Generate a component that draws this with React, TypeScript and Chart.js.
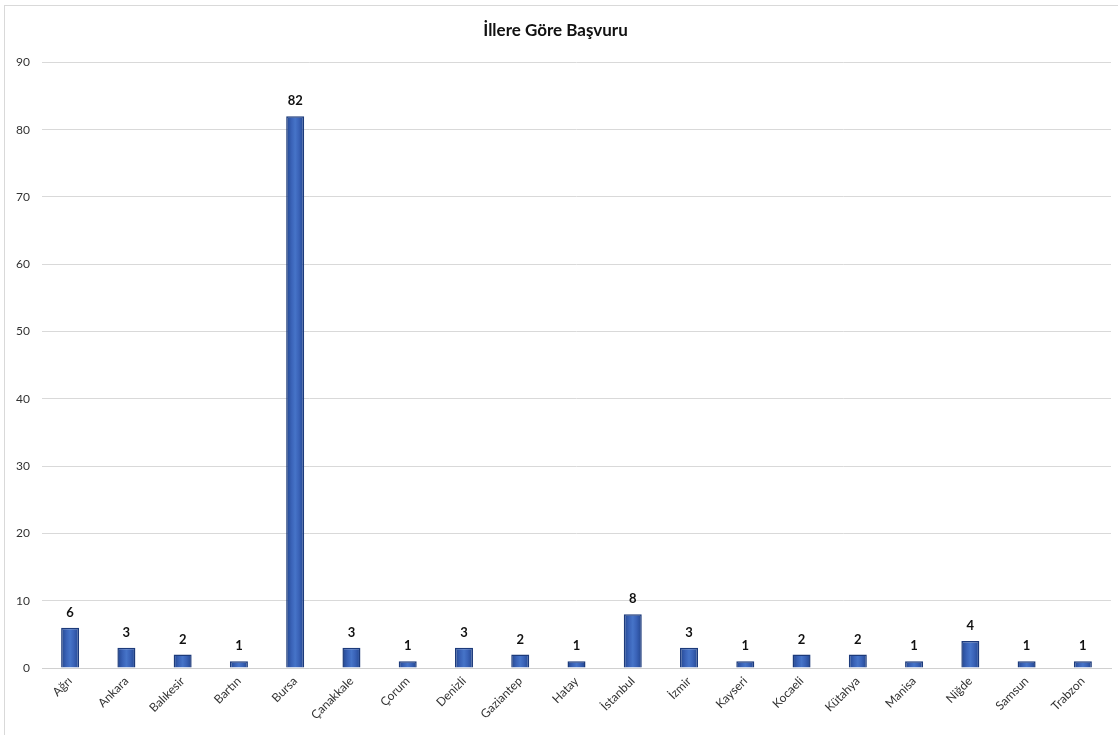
import React, { useEffect, useRef } from "react";
import { Chart, registerables } from "chart.js";

Chart.register(...registerables);

const categories: string[] = [
  "Ağrı", "Ankara", "Balıkesir", "Bartın", "Bursa", "Çanakkale", "Çorum", "Denizli",
  "Gaziantep", "Hatay", "İstanbul", "İzmir", "Kayseri", "Kocaeli", "Kütahya", "Manisa",
  "Niğde", "Samsun", "Trabzon",
];
const values: number[] = [6, 3, 2, 1, 82, 3, 1, 3, 2, 1, 8, 3, 1, 2, 2, 1, 4, 1, 1];
const chartTitle = "İllere Göre Başvuru";
const yMin = 0;
const yMax = 90;
const yStep = 10;

const FONT = "Lato, 'Open Sans', 'DejaVu Sans', sans-serif";
const BAR_PCT = 0.32;

const valueLabels = {
  id: "valueLabels",
  afterDatasetsDraw(chart: any) {
    const ctx = chart.ctx;
    const meta = chart.getDatasetMeta(0);
    ctx.save();
    ctx.font = `bold 13px ${FONT}`;
    ctx.fillStyle = "#111111";
    ctx.textAlign = "center";
    ctx.textBaseline = "middle";
    meta.data.forEach((el: any, i: number) => {
      ctx.fillText(String(values[i]), el.x, el.y - 15);
    });
    ctx.restore();
  },
};

export default function App() {
  const ref = useRef<HTMLCanvasElement | null>(null);
  useEffect(() => {
    if (!ref.current) return;
    const chart = new Chart(ref.current, {
      type: "bar",
      data: {
        labels: categories,
        datasets: [
          {
            data: values,
            backgroundColor: (c: any) => {
              const ch = c.chart;
              const xs = ch.scales && ch.scales.x;
              if (!xs || c.dataIndex === undefined) return "#4472c4";
              const cx = xs.getPixelForValue(c.dataIndex);
              const w = (xs.width / categories.length) * BAR_PCT;
              if (!isFinite(cx) || !isFinite(w) || w <= 0) return "#4472c4";
              const g = ch.ctx.createLinearGradient(cx - w / 2, 0, cx + w / 2, 0);
              g.addColorStop(0, "#23468f");
              g.addColorStop(0.3, "#3a63b8");
              g.addColorStop(0.5, "#4674c8");
              g.addColorStop(0.7, "#3a63b8");
              g.addColorStop(1, "#23468f");
              return g;
            },
            borderColor: "#1c3a7a",
            borderWidth: 1.5,
            barPercentage: BAR_PCT,
            categoryPercentage: 1,
          },
        ],
      },
      options: {
        animation: false,
        responsive: false,
        maintainAspectRatio: false,
        layout: { padding: { left: 0, right: 7, top: 0, bottom: 0 } },
        plugins: {
          legend: { display: false },
          tooltip: { enabled: false },
          title: {
            display: true,
            text: chartTitle,
            color: "#111111",
            font: { family: FONT, size: 17, weight: "bold" },
            padding: { top: 20, bottom: 22 },
          },
        },
        scales: {
          x: {
            offset: true,
            grid: { display: false, drawTicks: false },
            border: { display: true, color: "#d0d0d0", width: 1 },
            ticks: {
              autoSkip: false,
              maxRotation: 45,
              minRotation: 45,
              padding: 6,
              color: "#333333",
              font: { family: FONT, size: 12 },
            },
            afterFit: (s: any) => {
              s.height = 67;
            },
          },
          y: {
            min: yMin,
            max: yMax,
            grid: { color: "#d9d9d9", lineWidth: 1, drawTicks: false },
            border: { display: false },
            ticks: {
              stepSize: yStep,
              padding: 12,
              color: "#333333",
              font: { family: FONT, size: 12 },
            },
            afterFit: (s: any) => {
              s.width = 42;
            },
          },
        },
      },
      plugins: [valueLabels],
    });
    return () => chart.destroy();
  }, []);

  return (
    <div style={{ position: "fixed", left: 0, top: 0, width: 1118, height: 735, background: "#fff", overflow: "hidden" }}>
      <div
        style={{
          position: "absolute",
          left: 4,
          top: 5,
          width: 1130,
          height: 750,
          borderLeft: "1px solid #d9d9d9",
          borderTop: "1px solid #d9d9d9",
        }}
      />
      <canvas ref={ref} width={1118} height={735} style={{ position: "absolute", left: 0, top: 0, width: 1118, height: 735 }} />
    </div>
  );
}
